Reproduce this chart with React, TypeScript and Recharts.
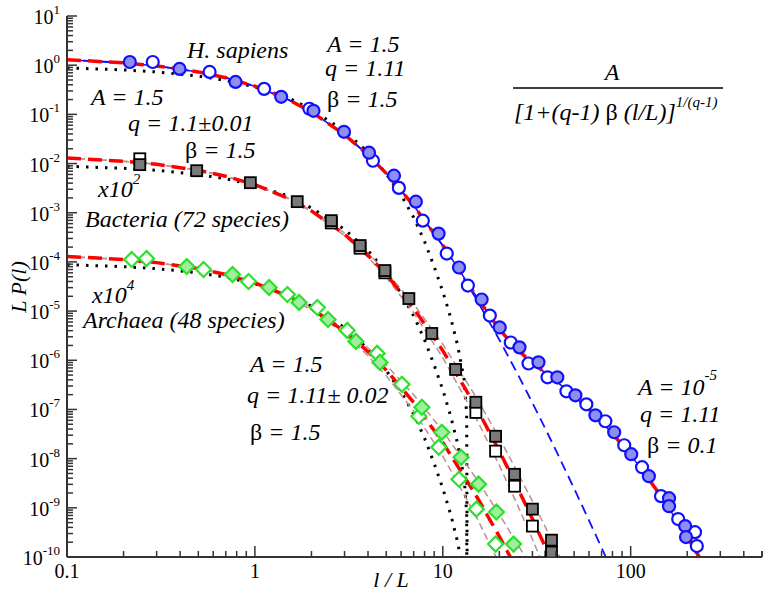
import React from 'react';
import { ComposedChart, Line, Scatter, XAxis, YAxis } from 'recharts';

const FONT = "'Liberation Serif', 'DejaVu Serif', 'Noto Serif', 'Times New Roman', Times, serif";

// ---------- measured data points ----------
const hsOpen = [[0.286,1.16],[0.574,0.73],[1.12,0.33],[1.95,0.13],[4.25,0.0114],[5.84,0.0032],[7.83,6.9e-4],[10.5,1.48e-4],[13.6,3.3e-5],[17.8,8.1e-6],[23,2.3e-6],[28.6,8.6e-7],[36.1,4.5e-7],[45.5,2.34e-7],[58.1,1.27e-7],[73.3,5.75e-8],[92.4,1.87e-8],[115,6.7e-9],[145,1.73e-9],[179,5.9e-10],[220,3.2e-10],[225,1.67e-10]];
const hsFilled = [[0.216,1.16],[0.397,0.84],[0.789,0.457],[1.38,0.227],[2.05,0.118],[2.98,0.0442],[4.05,0.0166],[5.5,0.00566],[7.19,0.00168],[9.5,3.76e-4],[12.2,7.7e-5],[16.1,1.72e-5],[20.1,4.65e-6],[25.6,1.83e-6],[32.3,9.1e-7],[40.7,4.5e-7],[50.8,1.94e-7],[64.9,7.6e-8],[81.7,3.44e-8],[100.7,1.23e-8],[125,4.4e-9],[160,1.57e-9],[160,1.08e-9],[195,4.25e-10],[197,2.54e-10]];
const bacOpen = [[0.244,0.0125],[2.55,6.2e-4],[3.63,1.9e-4],[4.92,6.0e-5],[15,8.7e-8],[19.1,1.42e-8],[24.1,2.75e-9],[30,4.25e-10],[37.6,1.0e-10]];
const bacFilled = [[0.244,0.0095],[0.49,0.00715],[0.946,0.00408],[1.68,0.00168],[2.55,6.9e-4],[3.63,2.15e-4],[4.92,6.67e-5],[6.6,1.8e-5],[8.74,3.51e-6],[11.7,6.5e-7],[15,1.4e-7],[19.1,2.85e-8],[24.1,4.8e-9],[30,9.4e-10],[37.9,2.2e-10],[37.9,1.26e-10]];
const arcOpen = [[0.221,1.12e-4],[0.265,1.17e-4],[0.533,7.0e-5],[0.925,3.99e-5],[1.49,2.17e-5],[2.15,1.18e-5],[3.10,4.05e-6],[4.47,1.38e-6],[6.06,3.24e-7],[7.46,7.26e-8],[9.52,1.71e-8],[12.2,3.82e-9],[15.1,9.4e-10],[19.1,1.83e-10]];
const arcFilled = [[0.434,8.05e-5],[0.760,5.54e-5],[1.19,3.01e-5],[1.72,1.50e-5],[2.45,6.76e-6],[3.45,2.42e-6],[4.63,9.06e-7],[7.74,1.11e-7],[9.88,3.44e-8],[12.5,1.07e-8],[15.5,3.03e-9],[19.3,8.2e-10],[23.8,1.83e-10]];

// ---------- curves ----------
const hsTotalX = [0.1,0.2,0.3,0.5,0.7,1,1.5,2,3,4,5,7,10,12,15,20,25,30,35,40,50,60,70,80,100,120,150,200,230,250];
const hsTotalY = [1.2926,1.1166,0.9668,0.7297,0.5553,0.3742,0.2009,0.11226,0.03877,0.014977,0.00633,0.0014008,2.171e-4,7.65e-5,2.063e-5,4.254e-6,1.629e-6,8.848e-7,5.6e-7,3.78e-7,1.886e-7,1.0036e-7,5.583e-8,3.224e-8,1.178e-8,4.76e-9,1.421e-9,2.557e-10,1.048e-10,6.05e-11];
const hsFitX = [0.1,0.2,0.3,0.5,0.7,1,1.5,2,3,4,5,7,10,12,15,20,25,30,35,40,50,60,70,74,80];
const hsFitY = [1.2926,1.1166,0.9668,0.7297,0.5553,0.3742,0.2009,0.11225,0.03876,0.01497,0.006324,0.0013958,2.132e-4,7.33e-5,1.813e-5,2.614e-6,5.3e-7,1.365e-7,4.19e-8,1.475e-8,2.472e-9,5.558e-10,1.543e-10,9.68e-11,5.02e-11];

const qX = [0.1,0.2,0.3,0.5,0.7,1,1.5,2,3,4,5,7,10,15,20,25,30,35,40,45];
const bacMidY = [0.012925,0.011161,0.009659,0.007278,0.005527,0.003708,0.001971,0.0010881,3.651e-4,1.3643e-4,5.568e-5,1.1443e-5,1.5729e-6,1.1409e-7,1.4305e-8,2.565e-9,5.922e-10,1.649e-10,5.31e-11];
const bacHiY = [0.012926,0.011166,0.009668,0.007297,0.005553,0.003742,0.002009,0.0011225,3.876e-4,1.497e-4,6.324e-5,1.3958e-5,2.132e-6,1.813e-7,2.614e-8,5.3e-9,1.365e-9,4.19e-10,1.475e-10,5.78e-11];
const bacLoY = [0.012924,0.011157,0.00965,0.007259,0.0055,0.003673,0.001933,0.0010537,3.43e-4,1.2374e-4,4.865e-5,9.245e-6,1.13e-6,6.835e-8,7.291e-9,1.1327e-9,2.3e-10,5.71e-11];
const arcMidY = [1.2926e-4,1.1166e-4,9.668e-5,7.297e-5,5.553e-5,3.742e-5,2.009e-5,1.1225e-5,3.876e-6,1.497e-6,6.324e-7,1.3958e-7,2.132e-8,1.813e-9,2.614e-10,5.3e-11];
const arcLoY = [1.2924e-4,1.1157e-4,9.65e-5,7.259e-5,5.5e-5,3.673e-5,1.933e-5,1.0537e-5,3.43e-6,1.2374e-6,4.865e-7,9.245e-8,1.13e-8,6.835e-10,7.291e-11];
const arcHiY = [1.2929e-4,1.1176e-4,9.686e-5,7.333e-5,5.606e-5,3.811e-5,2.0842e-5,1.1911e-5,4.339e-6,1.7773e-6,7.988e-7,1.9973e-7,3.649e-8,4.056e-9,7.36e-10,1.822e-10,5.59e-11];

const dotX = [0.1,0.2,0.3,0.5,0.7,1,1.5,2,3,4,5,6,7,8,9,10,11,12,13,13.4,13.5];
const hsDotY = [0.88,0.8,0.73,0.6,0.49,0.36,0.22,0.125,0.046,0.017,0.0062,0.0023,8e-4,2.6e-4,8e-5,2.5e-5,7.5e-6,2e-6,4e-7,8e-8,1e-11];
const bacDotY = [0.0088,0.008,0.0073,0.006,0.0049,0.0036,0.0022,0.00125,4.6e-4,1.7e-4,6.2e-5,2.3e-5,8e-6,2.6e-6,8e-7,2.5e-7,7.5e-8,2e-8,4e-9,8e-10,1e-13];
const arcDotY = [8.8e-5,8e-5,7.3e-5,6e-5,4.9e-5,3.6e-5,2.2e-5,1.25e-5,4.6e-6,1.7e-6,6.2e-7,2.3e-7,8e-8,2.6e-8,8e-9,2.5e-9,7.5e-10,2e-10,4e-11,8e-12,1e-15];

const xMajorTicks = [0.1, 1, 10, 100];
const xTickLabels = ['0.1', '1', '10', '100'];
const yExponents = [-10,-9,-8,-7,-6,-5,-4,-3,-2,-1,0,1];

const pts = (a: number[][]) => a.map(([x, y]) => ({ x, y }));
const zip = (xs: number[], ys: number[]) => ys.map((y, i) => ({ x: xs[i], y }));

const xTicks: number[] = [];
xMajorTicks.forEach((d) => { for (let m = 1; m <= 9; m++) { const v = +(m * d).toPrecision(4); if (v <= 500) xTicks.push(v); } });
xTicks.push(500);
const yTicks: number[] = [];
yExponents.forEach((e) => { for (let m = 1; m <= 9; m++) { if (e === 1 && m > 1) break; yTicks.push(+(m * Math.pow(10, e)).toPrecision(4)); } });

const isMajor = (v: number) => Math.abs(Math.log10(v) - Math.round(Math.log10(v))) < 1e-6;
const AX = '#333';
const TS = { fontFamily: FONT };

const BottomTick = (p: any) => {
  const { x, y, payload } = p; const v = payload.value; const M = isMajor(v);
  const idx = xMajorTicks.findIndex((t) => Math.abs(t - v) / t < 1e-6);
  return (<g>
    <line x1={x} x2={x} y1={y} y2={y - (M ? 11 : 6)} stroke={AX} strokeWidth={1.5} />
    {M && idx >= 0 && <text x={x} y={y + 21} textAnchor="middle" style={TS} fontSize={20} fill="#000">{xTickLabels[idx]}</text>}
  </g>);
};
const TopTick = (p: any) => {
  const { x, y, payload } = p; const M = isMajor(payload.value);
  return <line x1={x} x2={x} y1={y} y2={y + (M ? 11 : 6)} stroke={AX} strokeWidth={1.5} />;
};
const LeftTick = (p: any) => {
  const { x, y, payload } = p; const v = payload.value; const M = isMajor(v);
  const e = Math.round(Math.log10(v));
  return (<g>
    <line x1={x} x2={x + (M ? 10 : 6)} y1={y} y2={y} stroke={AX} strokeWidth={1.5} />
    {M && <text x={x - 7} y={y + 8} textAnchor="end" style={TS} fontSize={20} fill="#000">10<tspan dy={-10} fontSize={13}>{String(e)}</tspan></text>}
  </g>);
};
const RightTick = (p: any) => {
  const { x, y, payload } = p; const M = isMajor(payload.value);
  return <line x1={x} x2={x - (M ? 10 : 6)} y1={y} y2={y} stroke={AX} strokeWidth={1.5} />;
};

const BLUE = '#1010ff';
const circle = (fill: string) => (p: any) => <circle cx={p.cx} cy={p.cy} r={6} fill={fill} stroke={BLUE} strokeWidth={2.2} />;
const square = (fill: string) => (p: any) => <rect x={p.cx - 5.5} y={p.cy - 5.5} width={11} height={11} fill={fill} stroke="#000" strokeWidth={1.8} />;
const diamond = (fill: string) => (p: any) => <polygon points={`${p.cx},${p.cy - 7.5} ${p.cx + 7.5},${p.cy} ${p.cx},${p.cy + 7.5} ${p.cx - 7.5},${p.cy}`} fill={fill} stroke="#2de02d" strokeWidth={2.2} />;

const RED = '#ff0000';
const BROWN = '#bc8f8f';

const T = (props: any) => <text style={TS} fontSize={24} fontStyle="italic" fill="#000" {...props} />;
const Up = ({ children }: any) => <tspan fontStyle="normal">{children}</tspan>;

export default function App() {
  const line = (data: any[], stroke: string, width: number, dash?: string) => (
    <Line data={data} dataKey="y" type="linear" stroke={stroke} strokeWidth={width} strokeDasharray={dash} dot={false} activeDot={false} isAnimationActive={false} legendType="none" />
  );
  return (
    <div style={{ position: 'absolute', left: 0, top: 0, width: 768, height: 593, background: '#fff', fontFamily: FONT }}>
      <ComposedChart width={768} height={593} margin={{ top: 16, right: 6, bottom: 0, left: 0 }}>
        <XAxis dataKey="x" type="number" scale="log" domain={[0.1, 500]} allowDataOverflow ticks={xTicks} interval={0} tick={<BottomTick />} tickSize={0} tickMargin={0} tickLine={false} height={36} axisLine={{ stroke: AX, strokeWidth: 2 }} />
        <XAxis xAxisId="top" orientation="top" dataKey="x" type="number" scale="log" domain={[0.1, 500]} allowDataOverflow ticks={xTicks} interval={0} tick={<TopTick />} tickSize={0} tickMargin={0} tickLine={false} height={0} axisLine={{ stroke: AX, strokeWidth: 2 }} />
        <YAxis dataKey="y" type="number" scale="log" domain={[1e-10, 10]} allowDataOverflow ticks={yTicks} interval={0} tick={<LeftTick />} tickSize={0} tickMargin={0} tickLine={false} width={67} axisLine={{ stroke: AX, strokeWidth: 2 }} />
        <YAxis yAxisId="right" orientation="right" dataKey="y" type="number" scale="log" domain={[1e-10, 10]} allowDataOverflow ticks={yTicks} interval={0} tick={<RightTick />} tickSize={0} tickMargin={0} tickLine={false} width={0} axisLine={{ stroke: AX, strokeWidth: 2 }} />

        <Scatter data={pts(hsOpen)} shape={circle('#ffffff')} isAnimationActive={false} />
        <Scatter data={pts(hsFilled)} shape={circle('#8f8ff0')} isAnimationActive={false} />
        <Scatter data={pts(bacOpen)} shape={square('#ffffff')} isAnimationActive={false} />
        <Scatter data={pts(bacFilled)} shape={square('#7a7a7a')} isAnimationActive={false} />
        <Scatter data={pts(arcOpen)} shape={diamond('#ffffff')} isAnimationActive={false} />
        <Scatter data={pts(arcFilled)} shape={diamond('#a0eea0')} isAnimationActive={false} />

        {line(zip(dotX, hsDotY), '#000', 3, '2.5 7')}
        {line(zip(dotX, bacDotY), '#000', 3, '2.5 7')}
        {line(zip(dotX, arcDotY), '#000', 3, '2.5 7')}
        {line(zip(qX, bacHiY), BROWN, 1.5, '7 4')}
        {line(zip(qX, bacLoY), BROWN, 1.5, '7 4')}
        {line(zip(qX, arcHiY), BROWN, 1.5, '7 4')}
        {line(zip(qX, arcLoY), BROWN, 1.5, '7 4')}
        {line(zip(hsTotalX, hsTotalY), BLUE, 1.5)}
        {line(zip(hsFitX, hsFitY), BLUE, 1.8, '10 6')}
        {line(zip(hsTotalX, hsTotalY), RED, 3.5, '14 7')}
        {line(zip(qX, bacMidY), RED, 3.5, '14 7')}
        {line(zip(qX, arcMidY), RED, 3.5, '14 7')}
      </ComposedChart>
      <svg width={768} height={593} style={{ position: 'absolute', left: 0, top: 0, pointerEvents: 'none' }}>
        <text x={391} y={587} textAnchor="middle" style={TS} fontSize={22} fontStyle="italic">l / L</text>
        <text transform="translate(26,287) rotate(-90)" textAnchor="middle" style={TS} fontSize={22} fontStyle="italic">L P(l)</text>

        <T x={187} y={58}>H. sapiens</T>
        <T x={327} y={52}>A = 1.5</T>
        <T x={325} y={76}>q = 1.11</T>
        <T x={327} y={107}><Up>β</Up> = 1.5</T>

        <T x={91} y={105}>A = 1.5</T>
        <T x={128} y={131}>q = 1.1<Up>±</Up>0.01</T>
        <T x={185} y={158}><Up>β</Up> = 1.5</T>
        <T x={98} y={197}>x10<tspan dy={-13} fontSize={15}>2</tspan></T>
        <T x={85} y={227}>Bacteria (72 species)</T>
        <T x={92} y={303}>x10<tspan dy={-13} fontSize={15}>4</tspan></T>
        <T x={83} y={328}>Archaea (48 species)</T>

        <T x={250} y={372}>A = 1.5</T>
        <T x={247} y={403}>q = 1.11<Up>±</Up> 0.02</T>
        <T x={250} y={440}><Up>β</Up> = 1.5</T>

        <T x={638} y={395}>A = 10<tspan dy={-15} fontSize={15}>-5</tspan></T>
        <T x={640} y={422}>q = 1.11</T>
        <T x={647} y={453}><Up>β</Up> = 0.1</T>

        <T x={612} y={80} textAnchor="middle">A</T>
        <line x1={513} x2={723} y1={88} y2={88} stroke="#000" strokeWidth={1.5} />
        <T x={514} y={120}>[1+(q-1) <Up>β</Up> (l/L)]<tspan dy={-13} fontSize={15}>1/(q-1)</tspan></T>
      </svg>
    </div>
  );
}
